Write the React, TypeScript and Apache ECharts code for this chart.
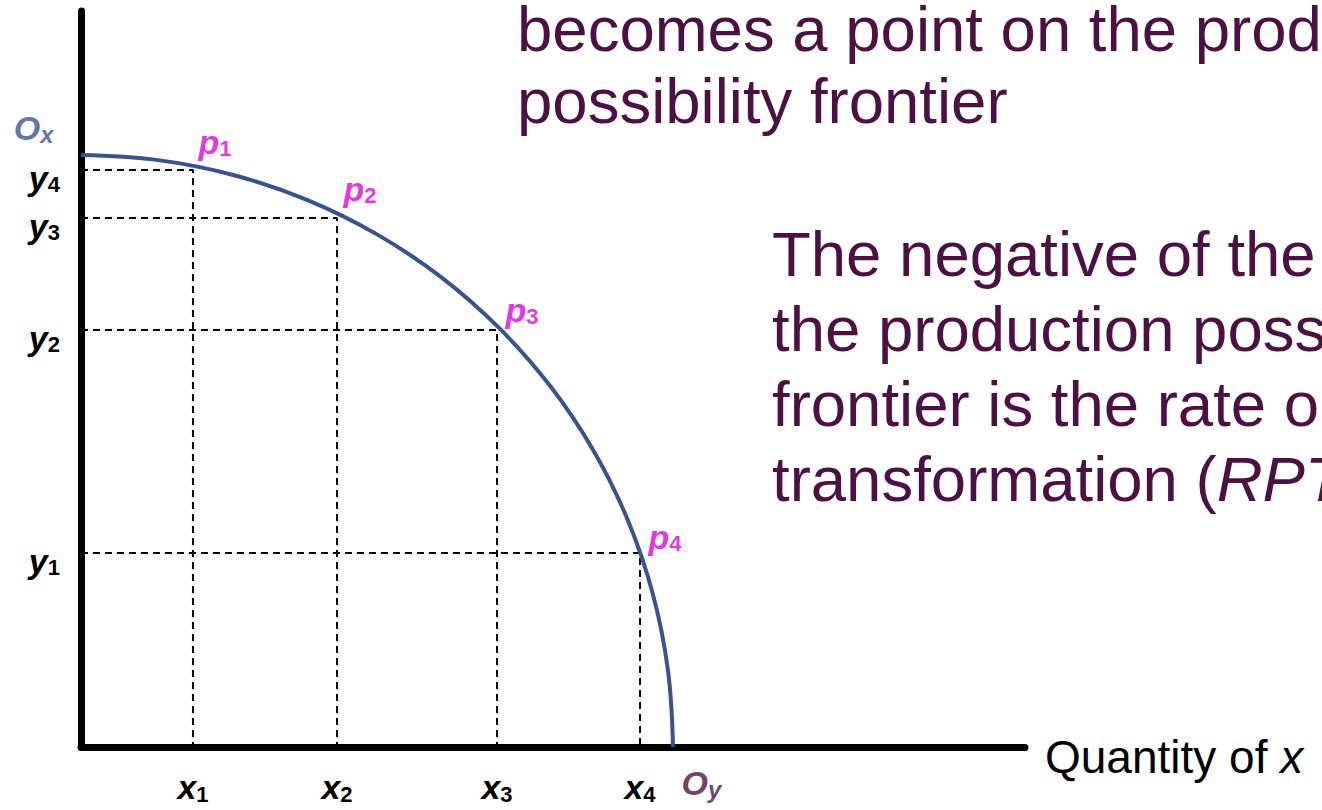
import React, { useEffect, useRef } from 'react';
import * as echarts from 'echarts';

// ---- data (axis units: 0..100 on both axes) ----
const pointNames = ['1', '2', '3', '4'];
const pointX = [11.86, 27.12, 44.07, 59.22];
const pointY = [78.4, 71.88, 56.66, 26.36];
const yTickSubs = ['4', '3', '2', '1'];
const xTickSubs = ['1', '2', '3', '4'];
const frontierX = [0, 8.18, 16.23, 24.0, 31.36, 38.18, 44.34, 49.75, 54.31, 57.94, 60.57, 62.17, 62.71];
const frontierY = [80.43, 79.74, 77.69, 74.31, 69.65, 63.81, 56.87, 48.97, 40.22, 30.78, 20.82, 10.5, 0];
const originNames = ['x', 'y'];
const originX = [0, 62.71];
const originY = [80.43, 0];
const xAxisTitle = 'Quantity of ';
const xAxisTitleVar = 'x';
const topText = ['becomes a point on the prod', 'possibility frontier'];
const sideText = ['The negative of the', 'the production poss', 'frontier is the rate o', 'transformation ('];
const sideTextItalic = 'RPT';

// ---- layout / style constants ----
const FONT = '"Liberation Sans", Arial, Helvetica, sans-serif';
const PURPLE = '#4C1042';
const CURVE = '#3B5290';
const MAGENTA = '#DA00DA';
const pLabelOffsets = [[5, -28], [6, -29], [8, -20], [8, -16]];
const originLabelStyle = [
  { position: 'left', offset: [-27, -27], color: CURVE },
  { position: 'right', offset: [8, 36], color: PURPLE },
];

const mainStyle = (color: string) => ({
  fontSize: 34, fontWeight: 'bold', fontStyle: 'italic', fontFamily: FONT, color, lineHeight: 36,
});
const subStyle = (color: string) => ({
  fontSize: 22, fontWeight: 'bold', fontFamily: FONT, color, lineHeight: 12, verticalAlign: 'bottom',
});

const nearestIndex = (arr: number[], v: number) => {
  let best = 0;
  for (let i = 1; i < arr.length; i++) if (Math.abs(arr[i] - v) < Math.abs(arr[best] - v)) best = i;
  return best;
};

export default function App() {
  const ref = useRef<HTMLDivElement>(null);
  useEffect(() => {
    if (!ref.current) return;
    const chart = echarts.init(ref.current, undefined, { renderer: 'svg' });
    const sortedY = [...pointY].sort((a, b) => b - a);

    const dashedSeries = pointX.map((x, i) => ({
      type: 'line',
      data: [[0, pointY[i]], [x, pointY[i]], [x, 0]],
      symbol: 'none',
      silent: true,
      z: 1,
      lineStyle: { color: '#000', width: 2, type: [7, 5] },
    }));

    const option: any = {
      animation: false,
      backgroundColor: '#fff',
      grid: { left: 81, right: 297, top: 11, bottom: 63, containLabel: false },
      xAxis: {
        type: 'value', min: 0, max: 100,
        splitLine: { show: false },
        axisTick: { show: false },
        axisLine: { show: true, onZero: false, lineStyle: { color: '#000', width: 7 } },
        axisLabel: {
          customValues: pointX,
          margin: 22,
          formatter: (v: number) => `{m|x}{s|${xTickSubs[nearestIndex(pointX, v)]}}`,
          rich: { m: mainStyle('#000'), s: subStyle('#000') },
        },
        name: `{n|${xAxisTitle}}{i|${xAxisTitleVar}}`,
        nameLocation: 'end',
        nameGap: 20,
        nameTextStyle: {
          padding: [20, 0, 0, 0],
          rich: {
            n: { fontSize: 46, fontFamily: FONT, color: '#000' },
            i: { fontSize: 46, fontFamily: FONT, color: '#000', fontStyle: 'italic' },
          },
        },
      },
      yAxis: {
        type: 'value', min: 0, max: 100,
        splitLine: { show: false },
        axisTick: { show: false },
        axisLine: { show: true, onZero: false, lineStyle: { color: '#000', width: 7 } },
        axisLabel: {
          customValues: pointY,
          margin: 21,
          padding: [16, 0, 0, 0],
          formatter: (v: number) => {
            const i = nearestIndex(pointY, v);
            const rank = sortedY.indexOf(pointY[i]);
            return `{m|y}{s|${yTickSubs[rank]}}`;
          },
          rich: { m: mainStyle('#000'), s: subStyle('#000') },
        },
      },
      graphic: [
        {
          type: 'text', x: 517, y: -7, silent: true,
          style: {
            text: topText.join('\n'),
            fontSize: 63.5, fontFamily: FONT, fill: PURPLE, lineHeight: 72,
            align: 'left', verticalAlign: 'top',
          },
        },
        {
          type: 'text', x: 772, y: 216, silent: true,
          style: {
            text: sideText.join('\n') + `{i|${sideTextItalic}}`,
            fontSize: 63.5, fontFamily: FONT, fill: PURPLE, lineHeight: 75,
            align: 'left', verticalAlign: 'top',
            rich: {
              i: { fontSize: 63.5, fontFamily: FONT, fill: PURPLE, fontStyle: 'italic', lineHeight: 75 },
            },
          },
        },
      ],
      series: [
        ...dashedSeries,
        {
          type: 'line',
          data: frontierX.map((x, i) => [x, frontierY[i]]),
          smooth: 0.4,
          symbol: 'none',
          z: 3,
          lineStyle: { color: CURVE, width: 4 },
        },
        {
          type: 'scatter',
          symbolSize: 1,
          z: 4,
          itemStyle: { color: 'rgba(0,0,0,0)' },
          data: pointX.map((x, i) => ({
            value: [x, pointY[i]],
            label: {
              show: true, position: 'right', distance: 0, offset: pLabelOffsets[i],
              formatter: `{m|p}{s|${pointNames[i]}}`,
              rich: { m: mainStyle(MAGENTA), s: subStyle(MAGENTA) },
            },
          })),
        },
        {
          type: 'scatter',
          symbolSize: 1,
          z: 4,
          itemStyle: { color: 'rgba(0,0,0,0)' },
          data: originX.map((x, i) => ({
            value: [x, originY[i]],
            label: {
              show: true, position: originLabelStyle[i].position, distance: 0,
              offset: originLabelStyle[i].offset,
              formatter: `{m|O}{s|${originNames[i]}}`,
              rich: {
                m: mainStyle(originLabelStyle[i].color),
                s: { ...subStyle(originLabelStyle[i].color), fontStyle: 'italic', fontSize: 24 },
              },
            },
          })),
        },
      ],
    };
    chart.setOption(option);
    return () => chart.dispose();
  }, []);
  return (
    <div
      ref={ref}
      style={{ position: 'fixed', left: 0, top: 0, width: 1322, height: 810, background: '#fff' }}
    />
  );
}
